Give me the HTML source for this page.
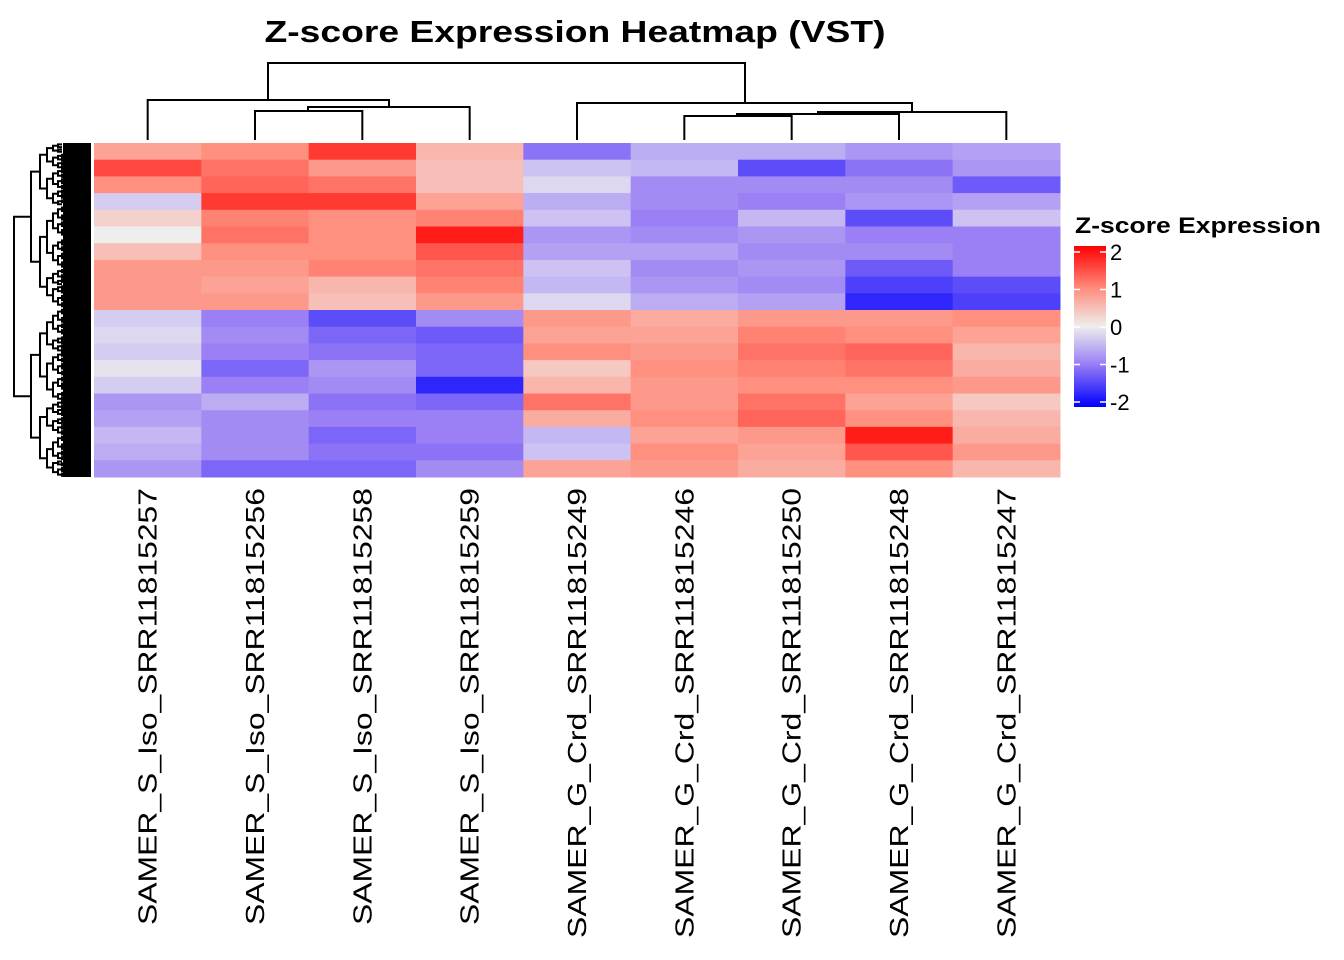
<!DOCTYPE html>
<html><head><meta charset="utf-8">
<style>
html,body{margin:0;padding:0;background:#fff;}
svg{display:block;font-family:"Liberation Sans",Arial,sans-serif;}
</style></head>
<body>
<svg id="chart" width="1344" height="960" viewBox="0 0 1344 960" xmlns="http://www.w3.org/2000/svg">
<text x="575" y="42" text-anchor="middle" font-size="31" font-weight="bold" textLength="621" lengthAdjust="spacingAndGlyphs">Z-score Expression Heatmap (VST)</text>
<g id="cells"></g>
<g id="coldend" stroke="#000" stroke-width="2" fill="none"></g>
<g id="rowdend" stroke="#000" stroke-width="2" fill="none"></g>
<g id="collabels"></g>
<g id="legend">
<text x="1075" y="233" font-size="22" font-weight="bold" textLength="246" lengthAdjust="spacingAndGlyphs">Z-score Expression</text>
<defs><linearGradient id="lg" x1="0" y1="1" x2="0" y2="0">
<stop offset="0" stop-color="#0000ff"/><stop offset="0.27" stop-color="#9b80f5"/><stop offset="0.5" stop-color="#eeeeee"/><stop offset="0.73" stop-color="#ff9080"/><stop offset="1" stop-color="#ff0000"/></linearGradient></defs>
<rect x="1074" y="246" width="32" height="161" fill="url(#lg)"/>
<g id="legticks"></g>
</g>
</svg>
<script>
const samples = ["SAMER_S_Iso_SRR11815257","SAMER_S_Iso_SRR11815256","SAMER_S_Iso_SRR11815258","SAMER_S_Iso_SRR11815259","SAMER_G_Crd_SRR11815249","SAMER_G_Crd_SRR11815246","SAMER_G_Crd_SRR11815250","SAMER_G_Crd_SRR11815248","SAMER_G_Crd_SRR11815247"];
const colS257 = [0.8,1.5,1.0,-0.3,0.3,0.0,0.5,0.9,0.9,0.9,-0.3,-0.2,-0.3,-0.1,-0.3,-0.8,-0.7,-0.5,-0.6,-0.8];
const colS256 = [1.0,1.2,1.3,1.6,1.1,1.2,1.0,0.9,0.8,0.9,-1.0,-0.9,-1.0,-1.2,-1.0,-0.6,-0.9,-0.9,-0.9,-1.2];
const colS258 = [1.6,0.9,1.2,1.6,1.0,1.0,1.0,1.1,0.6,0.5,-1.4,-1.2,-1.1,-0.8,-0.9,-1.1,-1.0,-1.2,-1.1,-1.2];
const colS259 = [0.6,0.5,0.5,0.8,1.1,1.8,1.4,1.2,1.1,0.9,-0.9,-1.3,-1.2,-1.2,-1.7,-1.2,-1.0,-1.0,-1.1,-0.9];
const colG249 = [-1.1,-0.4,-0.2,-0.6,-0.4,-0.8,-0.7,-0.4,-0.5,-0.2,0.9,0.8,1.0,0.4,0.6,1.2,0.7,-0.5,-0.4,0.8];
const colG246 = [-0.6,-0.5,-0.9,-0.9,-1.0,-0.9,-0.7,-0.9,-0.8,-0.6,0.7,0.8,0.9,1.0,0.9,0.9,1.0,0.8,1.0,0.9];
const colG250 = [-0.6,-1.4,-0.9,-1.0,-0.5,-0.8,-0.9,-0.8,-0.9,-0.7,0.9,1.1,1.2,1.1,1.0,1.2,1.3,0.9,0.8,0.7];
const colG248 = [-0.8,-1.1,-0.9,-0.8,-1.4,-1.0,-0.9,-1.3,-1.5,-1.7,0.9,1.0,1.3,1.2,1.0,0.8,1.0,1.8,1.4,1.0];
const colG247 = [-0.7,-0.8,-1.3,-0.7,-0.4,-1.0,-1.0,-1.0,-1.4,-1.5,1.0,0.8,0.6,0.7,0.9,0.4,0.6,0.7,0.9,0.6];
const legendTicks = [2,1,0,-1,-2];

const columns = [colS257,colS256,colS258,colS259,colG249,colG246,colG250,colG248,colG247];
const NS="http://www.w3.org/2000/svg";
const X0=94,X1=1060,Y0=143,Y1=477;
const cw=(X1-X0)/samples.length;
const nRows=colS257.length, rh=(Y1-Y0)/nRows;
function xPos(i){return X0+i*cw;}
function yPos(r){return Y0+r*rh;}
function legY(v){return 327-v*37.5;}
const stops=[[-2,[0,0,255]],[-1,[155,128,245]],[0,[238,238,238]],[1,[255,144,128]],[2,[255,0,0]]];
function color(v){
  v=Math.max(-2,Math.min(2,v));
  for(let k=0;k<stops.length-1;k++){
    const a=stops[k],b=stops[k+1];
    if(v<=b[0]){const t=(v-a[0])/(b[0]-a[0]);
      const c=a[1].map((x,j)=>Math.round(x+(b[1][j]-x)*t));
      return `rgb(${c[0]},${c[1]},${c[2]})`;}
  }
  return "rgb(255,0,0)";
}
function mk(tag,attrs,parent){const e=document.createElementNS(NS,tag);for(const k in attrs)e.setAttribute(k,attrs[k]);parent.appendChild(e);return e;}
const cells=document.getElementById('cells');
columns.forEach((col,i)=>{
  col.forEach((v,r)=>{
    const e=mk('rect',{x:xPos(i),y:yPos(r),width:cw+0.5,height:rh+0.5,fill:color(v)},cells);
    
    
  });
});
const cl=document.getElementById('collabels');
samples.forEach((s,i)=>{
  const cx=xPos(i)+cw/2+9;
  const t=mk('text',{x:0,y:0,transform:`translate(${cx},488) rotate(-90)`,'text-anchor':'end','font-size':'26',textLength:(s.indexOf('_S_')>0?437:450),lengthAdjust:'spacingAndGlyphs'},cl);
  t.textContent=s;
  
  
});
const cd=document.getElementById('coldend');
function cx(i){return xPos(i)+cw/2;}
const segs=[
 [[268,100],[268,63],[745,63],[745,103]],
 [[cx(0),140],[cx(0),100],[389,100],[389,107]],
 [[308,111],[308,107],[cx(3),107],[cx(3),140]],
 [[cx(1),140],[cx(1),111],[cx(2),111],[cx(2),140]],
 [[cx(4),140],[cx(4),103],[912,103],[912,112]],
 [[818,114],[818,112],[cx(8),112],[cx(8),140]],
 [[737,116],[737,114],[cx(7),114],[cx(7),140]],
 [[cx(5),140],[cx(5),116],[cx(6),116],[cx(6),140]]
];
segs.forEach(p=>{const e=mk('polyline',{points:p.map(q=>q.join(',')).join(' ')},cd);
  });
const rd=document.getElementById('rowdend');
const fr=[0.45,0.6,0.38,0.55,0.5,0.42,0.62,0.48];
const steps=[17,9,7,6,5,4,4,3,3];
function tree(y0,y1,x,depth,seed){
  if(depth>=9||y1-y0<3){return (y0+y1)/2;}
  const f=fr[(seed+depth)%fr.length];
  const ym=y0+(y1-y0)*f;
  const nx=Math.min(x+steps[depth],64);
  const a=tree(y0,ym,nx,depth+1,seed*2+1);
  const b=tree(ym,y1,nx,depth+1,seed*2+2);
  const e=mk('polyline',{points:`${nx},${a} ${x},${a} ${x},${b} ${nx},${b}`},rd);
  
  
  return (a+b)/2;
}
const ta=tree(143,308,31,1,1), tb=tree(308,477,31,1,2);
mk('polyline',{points:`31,${ta} 14,${ta} 14,${tb} 31,${tb}`},rd);
const leaf=mk('rect',{x:63,y:143,width:28,height:334,fill:'#000',stroke:'none'},rd);


const lt=document.getElementById('legticks');
legendTicks.forEach(v=>{
  const y=legY(v);
  mk('line',{x1:1074,y1:y,x2:1080,y2:y,stroke:'#fff','stroke-width':1.5},lt);
  mk('line',{x1:1100,y1:y,x2:1106,y2:y,stroke:'#fff','stroke-width':1.5},lt);
  const t=mk('text',{x:1110,y:y+8,'font-size':'22'},lt);
  t.textContent=String(v);
  
  
});
</script>
</body></html>
